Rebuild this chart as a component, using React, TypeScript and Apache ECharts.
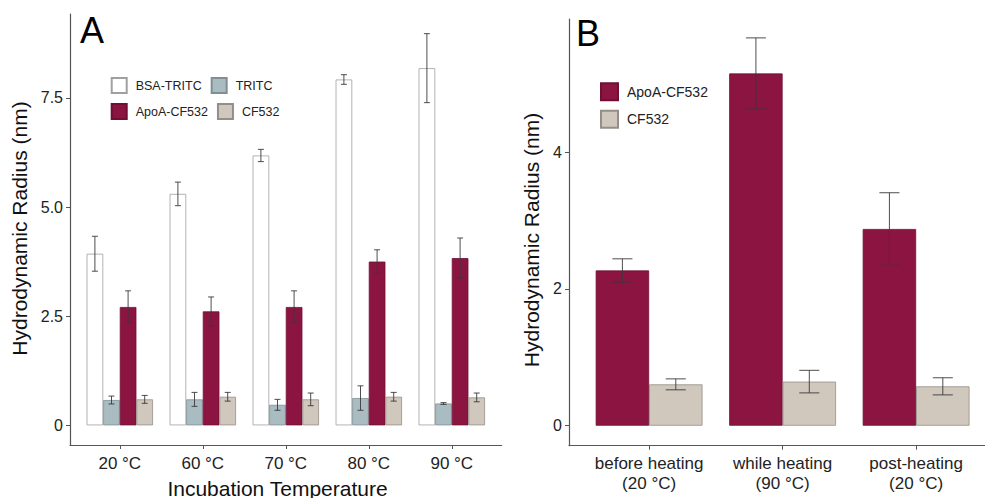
import React, { useEffect, useRef } from "react";
import * as echarts from "echarts";

// ---------- Panel A data ----------
const CATS_A = ["20 °C", "60 °C", "70 °C", "80 °C", "90 °C"];
const BSA_TRITC = [3.93, 5.3, 6.18, 7.92, 8.18];
const BSA_TRITC_ERR = [0.4, 0.27, 0.14, 0.11, 0.79];
const TRITC = [0.58, 0.595, 0.47, 0.625, 0.5];
const TRITC_ERR = [0.09, 0.16, 0.125, 0.28, 0.02];
const APOA_A = [2.71, 2.61, 2.71, 3.75, 3.83];
const APOA_A_ERR = [0.37, 0.33, 0.37, 0.27, 0.46];
const CF532_A = [0.595, 0.655, 0.595, 0.655, 0.64];
const CF532_A_ERR = [0.09, 0.1, 0.145, 0.1, 0.1];
const Y_TICKS_A = [0, 2.5, 5, 7.5];
const Y_LABELS_A = ["0", "2.5", "5.0", "7.5"];

// ---------- Panel B data ----------
const CATS_B = ["before heating\n(20 °C)", "while heating\n(90 °C)", "post-heating\n(20 °C)"];
const APOA_B = [2.27, 5.15, 2.876];
const APOA_B_ERR = [0.17, 0.52, 0.53];
const CF532_B = [0.605, 0.645, 0.576];
const CF532_B_ERR = [0.08, 0.165, 0.125];
const Y_TICKS_B = [0, 2, 4];
const Y_LABELS_B = ["0", "2", "4"];

const FONT = "Liberation Sans, Arial, Helvetica, sans-serif";
const COL_BSA = "#ffffff";
const COL_TRITC = "#a9bcc1";
const COL_APOA = "#8b1440";
const COL_CF = "#d0c7bd";
const AXIS_COL = "#555555";

function errRenderer(offset: number, cap: number) {
  return (params: any, api: any) => {
    const x = api.value(0) + offset;
    const lo = api.coord([x, api.value(1)]);
    const hi = api.coord([x, api.value(2)]);
    const half = api.size([cap, 0])[0] / 2;
    const style = { stroke: "#3a3a3a", lineWidth: 0.9 };
    return {
      type: "group",
      children: [
        { type: "line", shape: { x1: lo[0], y1: lo[1], x2: hi[0], y2: hi[1] }, style },
        { type: "line", shape: { x1: lo[0] - half, y1: lo[1], x2: lo[0] + half, y2: lo[1] }, style },
        { type: "line", shape: { x1: hi[0] - half, y1: hi[1], x2: hi[0] + half, y2: hi[1] }, style },
      ],
    };
  };
}

function barSeries(name: string, vals: number[], color: string, border: string, axis: number) {
  return {
    type: "bar",
    name,
    xAxisIndex: axis,
    yAxisIndex: axis,
    data: vals.map((v, i) => [i, v]),
    barGap: "0%",
    barCategoryGap: "20%",
    itemStyle: { color, borderColor: border, borderWidth: 0.8 },
    emphasis: { disabled: true },
  };
}

function errSeries(vals: number[], errs: number[], axis: number, offset: number, cap: number) {
  return {
    type: "custom",
    xAxisIndex: axis,
    yAxisIndex: axis,
    z: 5,
    renderItem: errRenderer(offset, cap),
    encode: { x: 0, y: [1, 2] },
    data: vals.map((v, i) => [i, v - errs[i], v + errs[i]]),
    silent: true,
  };
}

function xAxis(grid: number, min: number, max: number, cats: string[]) {
  const ticks = cats.map((_, i) => i);
  return {
    type: "value",
    gridIndex: grid,
    min,
    max,
    splitLine: { show: false },
    axisLine: { show: true, onZero: false, lineStyle: { color: AXIS_COL, width: 1.2 } },
    axisTick: { show: true, length: 4, customValues: ticks, lineStyle: { color: AXIS_COL } },
    axisLabel: {
      customValues: ticks,
      formatter: (v: number) => cats[Math.round(v)] ?? "",
      color: "#222",
      fontSize: 17,
      fontFamily: FONT,
      margin: 8,
      lineHeight: 20,
    },
  };
}

function yAxis(grid: number, min: number, max: number, ticks: number[], labels: string[]) {
  return {
    type: "value",
    gridIndex: grid,
    min,
    max,
    splitLine: { show: false },
    axisLine: { show: true, onZero: false, lineStyle: { color: AXIS_COL, width: 1.2 } },
    axisTick: { show: true, length: 4, customValues: ticks, lineStyle: { color: AXIS_COL } },
    axisLabel: {
      customValues: ticks,
      formatter: (v: number) => labels[ticks.indexOf(v)] ?? "",
      color: "#222",
      fontSize: 16,
      fontFamily: FONT,
      margin: 7,
    },
  };
}

export default function App() {
  const ref = useRef<HTMLDivElement>(null);
  useEffect(() => {
    document.body.style.margin = "0";
    if (!ref.current) return;
    const chart = echarts.init(ref.current, undefined, { renderer: "svg" });
    const option: any = {
      animation: false,
      backgroundColor: "#ffffff",
      textStyle: { fontFamily: FONT },
      grid: [
        { left: 70, top: 14, width: 431.6, height: 431 },
        { left: 569, top: 19, width: 416, height: 426.7 },
      ],
      xAxis: [xAxis(0, -0.6, 4.6, CATS_A), xAxis(1, -0.6, 2.516, CATS_B)],
      yAxis: [
        yAxis(0, -0.45, 9.42, Y_TICKS_A, Y_LABELS_A),
        yAxis(1, -0.292, 5.946, Y_TICKS_B, Y_LABELS_B),
      ],
      legend: [
        {
          data: ["BSA-TRITC", "TRITC"],
          icon: "rect",
          left: 110.7,
          top: 77,
          padding: 0,
          itemWidth: 15,
          itemHeight: 15,
          itemGap: 9,
          selectedMode: false,
          textStyle: { fontSize: 12.5, color: "#222", fontFamily: FONT, padding: [0, 0, 0, 4] },
        },
        {
          data: ["ApoA-CF532", "CF532"],
          icon: "rect",
          left: 110.7,
          top: 103,
          padding: 0,
          itemWidth: 15,
          itemHeight: 15,
          itemGap: 9,
          selectedMode: false,
          textStyle: { fontSize: 12.5, color: "#222", fontFamily: FONT, padding: [0, 0, 0, 4] },
        },
        {
          data: ["ApoA-CF532", "CF532"],
          icon: "rect",
          orient: "vertical",
          left: 600,
          top: 82.3,
          padding: 0,
          itemWidth: 17,
          itemHeight: 17,
          itemGap: 8.5,
          selectedMode: false,
          textStyle: { fontSize: 14, color: "#222", fontFamily: FONT, padding: [0, 0, 0, 4] },
        },
      ],
      graphic: [
        { type: "text", left: 80, top: 12, style: { text: "A", font: `36px ${FONT}`, fill: "#000" } },
        { type: "text", left: 576, top: 15.5, style: { text: "B", font: `36px ${FONT}`, fill: "#000" } },
        {
          type: "text",
          x: 277.5,
          y: 488,
          style: { text: "Incubation Temperature", font: `21px ${FONT}`, fill: "#111", align: "center", verticalAlign: "middle" },
        },
        {
          type: "text",
          x: 19.5,
          y: 228.5,
          rotation: Math.PI / 2,
          style: { text: "Hydrodynamic Radius (nm)", font: `21px ${FONT}`, fill: "#111", align: "center", verticalAlign: "middle" },
        },
        {
          type: "text",
          x: 531.5,
          y: 240,
          rotation: Math.PI / 2,
          style: { text: "Hydrodynamic Radius (nm)", font: `21px ${FONT}`, fill: "#111", align: "center", verticalAlign: "middle" },
        },
      ],
      series: [
        barSeries("BSA-TRITC", BSA_TRITC, COL_BSA, "#a0a0a0", 0),
        barSeries("TRITC", TRITC, COL_TRITC, "#7f8f93", 0),
        barSeries("ApoA-CF532", APOA_A, COL_APOA, "#6e0f33", 0),
        barSeries("CF532", CF532_A, COL_CF, "#948e88", 0),
        errSeries(BSA_TRITC, BSA_TRITC_ERR, 0, -0.3, 0.072),
        errSeries(TRITC, TRITC_ERR, 0, -0.1, 0.072),
        errSeries(APOA_A, APOA_A_ERR, 0, 0.1, 0.072),
        errSeries(CF532_A, CF532_A_ERR, 0, 0.3, 0.072),
        barSeries("ApoA-CF532", APOA_B, COL_APOA, "#6e0f33", 1),
        barSeries("CF532", CF532_B, COL_CF, "#948e88", 1),
        errSeries(APOA_B, APOA_B_ERR, 1, -0.2, 0.15),
        errSeries(CF532_B, CF532_B_ERR, 1, 0.2, 0.15),
      ],
    };
    chart.setOption(option);
    return () => chart.dispose();
  }, []);
  return <div ref={ref} style={{ width: 985, height: 498 }} />;
}
